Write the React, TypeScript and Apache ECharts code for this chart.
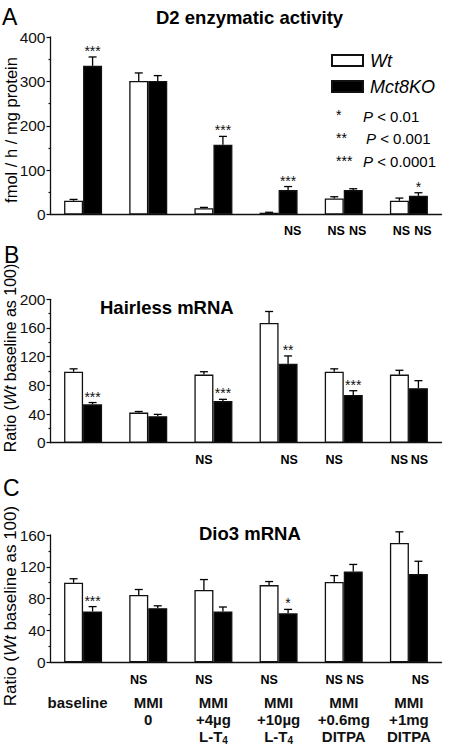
import React, { useEffect, useRef } from 'react';
import * as echarts from 'echarts';

const FONT = "'Liberation Sans', Arial, Helvetica, sans-serif";

const categories = ['baseline', 'MMI\n0', 'MMI\n+4µg\nL-T4', 'MMI\n+10µg\nL-T4', 'MMI\n+0.6mg\nDITPA', 'MMI\n+1mg\nDITPA'];
const seriesNames = ['Wt', 'Mct8KO'];

// Panel A: D2 enzymatic activity (fmol / h / mg protein)
const d2Wt = [31, 301, 14, 4, 36, 31];
const d2WtSem = [3, 18, 2, 1, 4, 6];
const d2Ko = [335, 301, 157, 55, 55, 42];
const d2KoSem = [20, 12, 19, 8, 3, 7];
const d2WtStars = ['', '', '', '', '', ''];
const d2KoStars = ['***', '', '***', '***', '', '*'];
const d2WtNotes = ['', '', '', '', 'NS', 'NS'];
const d2KoNotes = ['', '', '', 'NS', 'NS', 'NS'];

// Panel B: Hairless mRNA (ratio, Wt baseline = 100)
const hrWt = [99, 42, 95, 167, 99, 95];
const hrWtSem = [4, 1.5, 4, 16, 4, 6];
const hrKo = [53.5, 37, 58, 110, 66.5, 76];
const hrKoSem = [2.5, 2.5, 2.5, 11, 6, 10.5];
const hrWtStars = ['', '', '', '', '', ''];
const hrKoStars = ['***', '', '***', '**', '***', ''];
const hrWtNotes = ['', '', 'NS', '', 'NS', 'NS'];
const hrKoNotes = ['', '', '', 'NS', '', 'NS'];

// Panel C: Dio3 mRNA (ratio, Wt baseline = 100)
const dioWt = [100, 84.5, 91, 97, 101, 150];
const dioWtSem = [5, 7, 13, 4.5, 8, 14];
const dioKo = [64, 68, 64, 61.5, 114, 111];
const dioKoSem = [6, 3, 5.5, 5, 9, 16];
const dioWtStars = ['', '', '', '', '', ''];
const dioKoStars = ['***', '', '', '*', '', ''];
const dioWtNotes = ['', 'NS', 'NS', 'NS', 'NS', ''];
const dioKoNotes = ['', '', '', '', 'NS', 'NS'];

// y-axis ticks
const yTicksA = { min: 0, max: 400, interval: 100 };
const yTicksB = { min: 0, max: 200, interval: 40 };
const yTicksC = { min: 0, max: 160, interval: 40 };

const pLegendStars = ['*', '**', '***'];
const pLegendValues = ['< 0.01', '< 0.001', '< 0.0001'];

const BAR_W = 19;
const CAP = 4;

function barSeries(name: string, idx: number, data: number[], dark: boolean) {
  return {
    type: 'bar',
    name,
    xAxisIndex: idx,
    yAxisIndex: idx,
    data,
    barWidth: BAR_W,
    barGap: '0%',
    silent: true,
    itemStyle: {
      color: dark ? '#000' : '#fff',
      borderColor: '#111',
      borderWidth: 1.3,
    },
    z: 2,
  };
}

function errSeries(
  idx: number, values: number[], sems: number[], stars: string[], notes: string[],
  side: number, noteOffset: number, noteDx: number,
) {
  return {
    type: 'custom',
    xAxisIndex: idx,
    yAxisIndex: idx,
    silent: true,
    z: 3,
    encode: { x: 0, y: 1 },
    data: values.map((v, i) => [i, v, v + sems[i]]),
    renderItem: (params: any, api: any) => {
      const i = params.dataIndex;
      const cat = api.value(0);
      const base = api.coord([cat, api.value(1)]);
      const top = api.coord([cat, api.value(2)]);
      const zero = api.coord([cat, 0]);
      const x = base[0] + (side * BAR_W) / 2;
      const lineStyle = { stroke: '#000', lineWidth: 1.3 };
      const children: any[] = [
        { type: 'line', shape: { x1: x, y1: base[1], x2: x, y2: top[1] }, style: lineStyle },
        { type: 'line', shape: { x1: x - CAP, y1: top[1], x2: x + CAP, y2: top[1] }, style: lineStyle },
      ];
      if (stars[i]) {
        children.push({
          type: 'text',
          x,
          y: top[1] + 1,
          style: { text: stars[i], fill: '#111', fontSize: 14, fontFamily: FONT, align: 'center', verticalAlign: 'bottom' },
        });
      }
      if (notes[i]) {
        children.push({
          type: 'text',
          x: x + noteDx,
          y: zero[1] + noteOffset,
          style: { text: notes[i], fill: '#000', fontSize: 12.5, fontWeight: 'bold', fontFamily: FONT, align: 'center', verticalAlign: 'middle' },
        });
      }
      return { type: 'group', children };
    },
  };
}

function yAxis(idx: number, t: { min: number; max: number; interval: number }) {
  return {
    type: 'value',
    gridIndex: idx,
    min: t.min,
    max: t.max,
    interval: t.interval,
    axisLine: { show: true, lineStyle: { color: '#111', width: 1.3 } },
    axisTick: { show: true, length: 4, lineStyle: { color: '#111', width: 1.2 } },
    minorTick: { show: true, splitNumber: 2, length: 2, lineStyle: { color: '#111', width: 1.2 } },
    splitLine: { show: false },
    axisLabel: { fontSize: 15.5, color: '#111', margin: 5, fontFamily: FONT },
  };
}

function xAxis(idx: number, showLabels: boolean) {
  return {
    type: 'category',
    gridIndex: idx,
    data: categories,
    axisLine: { show: true, lineStyle: { color: '#111', width: 1.3 } },
    axisTick: { show: false },
    axisLabel: showLabels
      ? {
          show: true,
          interval: 0,
          margin: 32,
          fontSize: 15,
          fontWeight: 'bold',
          color: '#111',
          lineHeight: 17,
          fontFamily: FONT,
          formatter: (v: string) =>
            v === 'baseline'
              ? '{base|baseline}'
              : v
                  .split('\n')
                  .map((line) => line.replace(/T4$/, 'T{sub|4}'))
                  .join('\n'),
          rich: {
            base: { fontSize: 15, fontWeight: 'bold', color: '#111', padding: [0, 11, 0, 0], fontFamily: FONT, lineHeight: 17 },
            sub: { fontSize: 10, fontWeight: 'bold', color: '#111', verticalAlign: 'bottom', lineHeight: 8, fontFamily: FONT },
          },
        }
      : { show: false },
  };
}

const GRID_LEFT = 50.5;
const GRID_W = 391;

export default function App() {
  const ref = useRef<HTMLDivElement>(null);
  useEffect(() => {
    if (!ref.current) return;
    const chart = echarts.init(ref.current, undefined, { renderer: 'svg' });
    const textBase = { fill: '#000', fontFamily: FONT };
    const ratioLabel = (y: number, size: number) => ({
      type: 'text', x: 10, y, rotation: Math.PI / 2,
      style: {
        ...textBase, text: 'Ratio ({i|Wt} baseline as 100)', fontSize: size, align: 'center', verticalAlign: 'middle',
        rich: { i: { fontStyle: 'italic', fontSize: size, fontFamily: FONT, fill: '#000' } },
      },
    });
    const graphic: any[] = [
      { type: 'text', x: 2, y: 17, style: { ...textBase, text: 'A', fontSize: 23, verticalAlign: 'middle' } },
      { type: 'text', x: 4, y: 254.5, style: { ...textBase, text: 'B', fontSize: 23, verticalAlign: 'middle' } },
      { type: 'text', x: 3, y: 487.5, style: { ...textBase, text: 'C', fontSize: 23, verticalAlign: 'middle' } },
      {
        type: 'text', x: 11, y: 130, rotation: Math.PI / 2,
        style: { ...textBase, text: 'fmol / h / mg protein', fontSize: 16.5, align: 'center', verticalAlign: 'middle' },
      },
      ratioLabel(358, 16),
      ratioLabel(606, 17),
    ];
    const pRowsY = [116, 138.5, 161.5];
    const pTextX = [363, 366, 363];
    pLegendStars.forEach((s, k) => {
      graphic.push({ type: 'text', x: 336, y: pRowsY[k] - 1, style: { ...textBase, text: s, fontSize: 14, verticalAlign: 'middle' } });
      graphic.push({
        type: 'text', x: pTextX[k], y: pRowsY[k],
        style: {
          ...textBase, text: '{i|P} ' + pLegendValues[k], fontSize: 15, verticalAlign: 'middle',
          rich: { i: { fontStyle: 'italic', fontSize: 15, fontFamily: FONT, fill: '#000' } },
        },
      });
    });

    const titleStyle = { fontSize: 18.5, fontWeight: 'bold', color: '#000', fontFamily: FONT };
    chart.setOption({
      animation: false,
      backgroundColor: '#fff',
      textStyle: { fontFamily: FONT },
      title: [
        { text: 'D2 enzymatic activity', left: 156, top: 7.5, padding: 0, textStyle: titleStyle },
        { text: 'Hairless mRNA', left: 100, top: 297.5, padding: 0, textStyle: titleStyle },
        { text: 'Dio3 mRNA', left: 199, top: 524, padding: 0, textStyle: titleStyle },
      ],
      legend: {
        data: seriesNames,
        orient: 'vertical',
        left: 331,
        top: 51.5,
        padding: 0,
        itemWidth: 31,
        itemHeight: 11,
        itemGap: 8,
        icon: 'rect',
        selectedMode: false,
        textStyle: { fontSize: 18, fontStyle: 'italic', color: '#000', fontFamily: FONT, padding: [0, 0, 0, 2] },
      },
      grid: [
        { left: GRID_LEFT, top: 37, width: GRID_W, height: 177.5 },
        { left: GRID_LEFT, top: 299.3, width: GRID_W, height: 143.4 },
        { left: GRID_LEFT, top: 535, width: GRID_W, height: 127.3 },
      ],
      xAxis: [xAxis(0, false), xAxis(1, false), xAxis(2, true)],
      yAxis: [yAxis(0, yTicksA), yAxis(1, yTicksB), yAxis(2, yTicksC)],
      graphic,
      series: [
        barSeries(seriesNames[0], 0, d2Wt, false),
        barSeries(seriesNames[1], 0, d2Ko, true),
        errSeries(0, d2Wt, d2WtSem, d2WtStars, d2WtNotes, -1, 16, 2),
        errSeries(0, d2Ko, d2KoSem, d2KoStars, d2KoNotes, 1, 16, 4.5),
        barSeries(seriesNames[0], 1, hrWt, false),
        barSeries(seriesNames[1], 1, hrKo, true),
        errSeries(1, hrWt, hrWtSem, hrWtStars, hrWtNotes, -1, 17, 0),
        errSeries(1, hrKo, hrKoSem, hrKoStars, hrKoNotes, 1, 17, 1),
        barSeries(seriesNames[0], 2, dioWt, false),
        barSeries(seriesNames[1], 2, dioKo, true),
        errSeries(2, dioWt, dioWtSem, dioWtStars, dioWtNotes, -1, 17.5, 0),
        errSeries(2, dioKo, dioKoSem, dioKoStars, dioKoNotes, 1, 17.5, 2),
      ],
    });
    return () => chart.dispose();
  }, []);
  return <div ref={ref} style={{ position: 'fixed', left: 0, top: 0, width: 452, height: 752 }} />;
}
